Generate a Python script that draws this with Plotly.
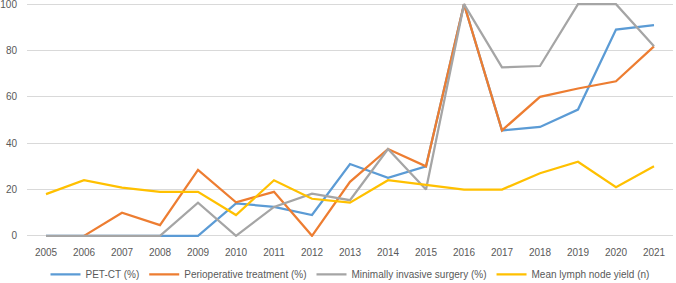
import plotly.graph_objects as go

years = [str(y) for y in range(2005, 2022)]

pet_ct = [0, 0, 0, 0, 0, 14, 12.5, 9, 31, 25, 30, 100, 45.5, 47, 54.5, 89, 91]
periop = [None, 0, 10, 4.6, 28.5, 14.5, 19, 0, 23.3, 37.5, 30, 100, 45.5, 60, 63.6, 66.7, 81.8]
mis = [0, 0, 0, 0, 14.3, 0, 12.5, 18.2, 15.4, 37.5, 20, 100, 72.7, 73.3, 100, 100, 81.8]
lymph = [18, 24, 20.8, 19, 19, 9, 24, 16, 14.3, 24, 22, 20, 20, 27, 32, 21, 30]

series = [
    ("PET-CT (%)", pet_ct, "#5B9BD5"),
    ("Perioperative treatment (%)", periop, "#ED7D31"),
    ("Minimally invasive surgery (%)", mis, "#A5A5A5"),
    ("Mean lymph node yield (n)", lymph, "#FFC000"),
]

FONT = "Liberation Sans, Arial, sans-serif"
TXT = "#595959"

fig = go.Figure()
for name, vals, color in series:
    fig.add_trace(go.Scatter(
        x=years, y=vals, name=name, mode="lines",
        line=dict(color=color, width=2.25),
    ))

fig.update_layout(
    width=676, height=283,
    margin=dict(l=27, r=3, t=3, b=46, autoexpand=False),
    paper_bgcolor="white", plot_bgcolor="white",
    font=dict(family=FONT, size=10, color=TXT),
    showlegend=True,
    legend=dict(orientation="h", x=0.5, xanchor="center", y=-0.16, yanchor="middle",
                font=dict(size=10, color=TXT), tracegroupgap=0, itemwidth=30),
)
fig.update_xaxes(type="category", showgrid=False, showline=False, ticks="",
                 tickfont=dict(size=10, color=TXT), range=[-0.5, 16.5],
                 automargin=False, ticklabelstandoff=8, ticklabeloverflow="allow")
fig.update_yaxes(range=[-0.5, 100.5], tickvals=[0, 20, 40, 60, 80, 100],
                 showgrid=True, gridcolor="#D9D9D9", gridwidth=1,
                 zeroline=True, zerolinecolor="#D9D9D9", zerolinewidth=1, showline=False,
                 ticks="", tickfont=dict(size=10, color=TXT), ticklabelstandoff=9,
                 automargin=False, ticklabeloverflow="allow")

fig.write_html("out.html", config={"displayModeBar": False},
               post_script="document.body.style.margin='0';document.body.style.overflow='hidden';")
